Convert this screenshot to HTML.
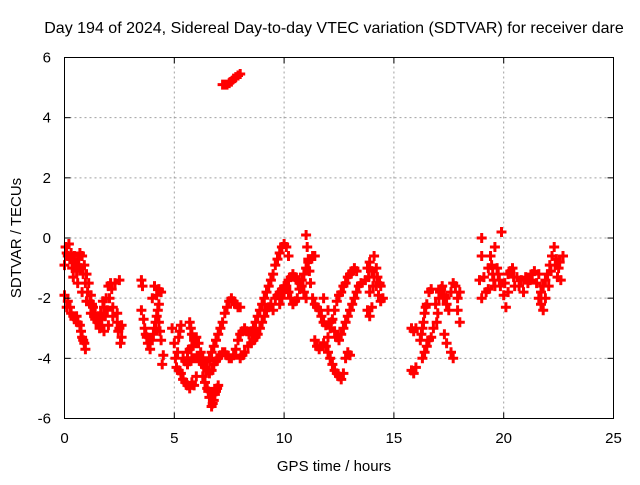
<!DOCTYPE html>
<html><head><meta charset="utf-8"><style>
body{margin:0;background:#fff}
svg text{font-family:"Liberation Sans",sans-serif;font-size:15px;fill:#000}
</style></head><body>
<svg id="chart" width="640" height="480" viewBox="0 0 640 480" xmlns="http://www.w3.org/2000/svg">
<rect width="640" height="480" fill="#fff"/>
<g id="grid"></g>
<g id="marks"></g>
<rect x="64.5" y="57.5" width="549" height="361" fill="none" stroke="#000" stroke-width="1"/>
<g id="ticks"></g>
<text x="334" y="33" text-anchor="middle" style="font-size:16px">Day 194 of 2024, Sidereal Day-to-day VTEC variation (SDTVAR) for receiver dare</text>
<text x="334" y="471" text-anchor="middle">GPS time / hours</text>
<text transform="translate(21,238) rotate(-90)" text-anchor="middle">SDTVAR / TECUs</text>
</svg>
<script>
const xTicks=[0,5,10,15,20,25];
const yTicks=[-6,-4,-2,0,2,4,6];
const pointsTime=[];const pointsValue=[];
const tracks=[
[[0,-0.9],[0.1,-0.5],[0.2,-0.2],[0.3,-0.5],[0.4,-0.8],[0.5,-0.9],[0.6,-0.7],[0.7,-0.5],[0.8,-0.6],[0.9,-0.9],[1.0,-1.2],[1.1,-1.5],[1.2,-1.9],[1.3,-2.3],[1.4,-2.5],[1.5,-2.8],[1.6,-3.0],[1.7,-2.7],[1.8,-2.3],[1.9,-2.0],[2.0,-1.6],[2.1,-1.5],[2.3,-1.5],[2.5,-1.4],[0.05,-0.3],[0.15,-0.6],[0.35,-1.0],[0.45,-0.6]],
[[0.25,-0.7],[0.55,-1.1],[0.65,-0.9],[0.75,-1.0],[0.85,-1.2],[0.95,-1.5],[1.05,-1.8],[1.15,-2.1],[1.25,-2.2],[1.35,-2.6],[1.45,-2.7],[1.55,-2.6],[1.65,-2.5],[1.75,-2.1],[1.85,-2.6],[1.95,-2.4],[2.05,-2.0],[2.15,-1.7],[2.2,-2.3]],
[[0.4,-1.3],[0.6,-1.5],[0.8,-1.8],[1.0,-2.1],[1.2,-2.5],[1.4,-2.7],[1.6,-2.9],[1.8,-3.1],[2.0,-2.9],[2.2,-2.6],[2.4,-2.5]],
[[0,-1.9],[0.15,-2.1],[0.3,-2.5],[0.45,-2.7],[0.6,-2.8],[0.75,-3.1],[0.85,-3.4],[0.95,-3.7],[0.1,-2.3],[0.25,-2.3],[0.4,-2.6],[0.55,-2.6],[0.7,-2.9],[0.8,-3.3],[0.9,-3.5]],
[[2.4,-2.8],[2.5,-3.0],[2.6,-3.3],[2.55,-3.5],[2.45,-3.1],[2.6,-2.9]],
[[3.5,-1.4],[3.55,-1.6],[3.5,-2.4],[3.6,-2.7],[3.7,-3.2],[3.8,-3.5],[3.9,-3.7],[4.0,-3.4],[4.1,-3.0],[4.2,-2.6],[4.3,-2.2],[4.4,-1.8],[4.0,-2.0],[4.1,-1.6],[4.3,-2.8],[4.4,-3.4],[4.5,-3.9],[4.45,-4.2],[3.65,-3.0],[3.75,-3.3],[4.05,-3.2],[4.15,-2.8],[4.25,-2.4],[4.35,-3.1],[4.2,-1.9],[4.3,-1.7]],
[[4.9,-3.0],[5.0,-3.5],[5.05,-4.0],[5.1,-4.3],[5.2,-3.3],[5.3,-2.9],[5.3,-4.5],[5.5,-4.8],[5.7,-5.0],[5.9,-4.9],[6.0,-4.6],[5.4,-4.7],[5.6,-4.9],[5.8,-4.8],[5.2,-4.4],[5.15,-3.8],[5.25,-3.1]],
[[5.6,-3.8],[5.8,-3.6],[6.0,-3.3],[6.2,-3.8],[6.4,-4.1],[6.6,-4.0],[6.8,-3.6],[7.0,-3.2],[7.2,-2.8],[7.4,-2.3],[7.6,-2.0],[7.8,-2.2],[8.0,-2.3],[5.7,-3.7],[5.9,-3.4],[6.1,-3.5],[6.3,-4.0],[6.5,-4.1],[6.7,-3.8],[6.9,-3.4],[7.1,-3.0],[7.3,-2.5],[7.5,-2.1],[7.7,-2.1],[7.9,-2.3]],
[[5.4,-4.0],[5.6,-4.2],[5.8,-4.0],[6.0,-4.0],[6.2,-4.1],[6.4,-4.3],[6.6,-4.5],[6.8,-4.2],[7.0,-4.0],[7.2,-3.8],[7.4,-3.9],[7.6,-4.0],[7.8,-3.7],[8.0,-3.2],[8.2,-3.0],[8.4,-3.2],[8.6,-3.0],[8.8,-2.6],[9.0,-2.2],[9.2,-1.8],[9.4,-1.4],[9.6,-0.9],[9.8,-0.5],[10.0,-0.2],[10.1,-0.3],[10.2,-0.6],[5.5,-4.1],[5.7,-4.1],[5.9,-4.0],[6.1,-4.0],[6.3,-4.2],[6.5,-4.4],[6.7,-4.4],[6.9,-4.1],[7.1,-3.9],[7.3,-3.8],[7.5,-4.0],[7.7,-3.9],[7.9,-3.4],[8.1,-3.1],[8.3,-3.1],[8.5,-3.1],[8.7,-2.8],[8.9,-2.4],[9.1,-2.0],[9.3,-1.6],[9.5,-1.2],[9.7,-0.7],[9.9,-0.3]],
[[6.3,-4.6],[6.5,-5.0],[6.6,-5.3],[6.7,-5.6],[6.8,-5.4],[6.9,-5.1],[7.0,-4.9],[6.4,-4.8],[6.55,-5.1],[6.75,-5.5],[6.85,-5.2],[6.95,-5.0]],
[[5.7,-2.8],[5.8,-3.2],[6.0,-3.5],[5.75,-3.0],[5.9,-3.3]],
[[8.0,-4.0],[8.2,-3.8],[8.5,-3.5],[8.7,-3.3],[8.9,-3.0],[9.0,-2.8],[9.2,-2.4],[9.4,-2.2],[9.5,-2.4],[9.6,-2.0],[9.8,-1.8],[10.0,-1.6],[10.2,-1.8],[10.4,-2.2],[10.6,-2.0],[10.8,-1.4],[11.0,-1.0],[11.2,-0.7],[11.4,-0.6],[8.1,-3.9],[8.35,-3.6],[8.6,-3.4],[8.8,-3.2],[9.1,-2.6],[9.3,-2.3],[9.7,-1.9],[9.9,-1.7],[10.1,-1.7],[10.3,-2.0],[10.5,-2.1],[10.7,-1.7],[10.9,-1.2],[11.1,-0.8],[11.3,-0.6]],
[[7.2,5.1],[7.4,5.1],[7.6,5.2],[7.8,5.35],[8.0,5.45],[7.3,5.1],[7.5,5.15],[7.7,5.3],[7.9,5.4]],
[[9.8,-2.2],[10.0,-1.8],[10.2,-1.4],[10.4,-1.2],[10.6,-1.4],[10.8,-1.6],[11.0,-2.0],[9.9,-2.0],[10.1,-1.6],[10.3,-1.3],[10.5,-1.3],[10.7,-1.5],[10.9,-1.8]],
[[11.0,0.1],[11.05,-0.3],[11.1,-0.7],[11.15,-1.1],[11.2,-1.5]],
[[11.3,-2.0],[11.5,-2.3],[11.7,-2.6],[11.9,-2.9],[12.0,-3.3],[12.1,-3.0],[12.2,-2.7],[12.3,-2.4],[12.4,-2.1],[12.6,-1.8],[12.8,-1.5],[13.0,-1.2],[13.2,-1.0],[13.3,-1.1],[11.4,-2.2],[11.6,-2.4],[11.8,-2.8],[12.5,-1.9],[12.7,-1.6],[12.9,-1.3],[13.1,-1.1]],
[[11.4,-3.4],[11.6,-3.7],[11.8,-3.5],[12.0,-3.8],[12.2,-4.2],[12.4,-4.5],[12.6,-4.7],[12.7,-4.5],[12.8,-4.0],[12.9,-3.8],[13.0,-3.9],[11.5,-3.6],[11.7,-3.6],[11.9,-3.6],[12.1,-4.0],[12.3,-4.4],[12.5,-4.6]],
[[11.8,-2.0],[12.0,-2.4],[12.3,-3.1],[12.5,-3.4],[12.7,-3.0],[12.9,-2.6],[13.1,-2.2],[13.3,-1.8],[13.5,-1.5],[12.15,-2.8],[12.4,-3.3],[12.6,-3.2],[12.8,-2.8],[13.0,-2.4],[13.2,-2.0],[13.4,-1.6]],
[[13.8,-1.0],[13.9,-0.8],[14.0,-1.1],[14.1,-1.3],[14.2,-1.6],[14.3,-1.9],[14.4,-2.1],[13.9,-1.8],[13.8,-2.4],[13.9,-2.6],[14.0,-2.3],[14.1,-0.6],[14.2,-1.0],[13.7,-1.4],[14.5,-2.0],[14.4,-1.6],[13.85,-1.3],[14.05,-1.6],[14.25,-1.3],[14.35,-1.5]],
[[15.8,-3.0],[15.9,-3.1],[16.0,-3.0],[15.8,-4.4],[15.9,-4.5],[16.0,-4.3],[16.2,-3.4],[16.3,-3.0],[16.4,-2.5],[16.5,-2.2],[16.6,-1.8],[16.7,-1.7],[16.3,-4.0],[16.5,-3.6],[16.7,-3.3],[16.8,-3.0],[16.9,-2.2],[17.0,-2.5],[17.1,-1.8],[17.2,-1.6],[17.3,-1.9],[17.4,-2.2],[17.5,-2.4],[17.6,-1.8],[17.7,-1.5],[17.8,-1.6],[17.9,-2.0],[18.0,-1.8],[17.3,-3.2],[17.4,-3.5],[17.6,-3.8],[17.7,-4.0],[17.9,-2.4],[18.0,-2.8],[16.25,-3.2],[16.35,-2.8],[16.45,-2.3],[16.4,-3.8],[16.6,-3.4],[16.95,-2.8],[17.05,-2.0],[17.15,-1.7],[17.25,-2.0],[17.35,-2.0]],
[[19.0,0.0],[19.0,-0.6],[19.1,-1.3],[19.2,-1.8],[19.3,-1.0],[19.4,-0.6],[19.5,-1.2],[19.6,-1.6],[19.7,-1.0],[19.8,-1.4],[19.9,0.2],[20.0,-1.9],[20.1,-2.3],[20.2,-1.2],[20.4,-1.0],[20.5,-1.6],[20.6,-1.3],[20.8,-1.4],[20.9,-1.8],[21.0,-1.3],[21.2,-1.4],[21.4,-1.1],[21.6,-2.0],[21.7,-2.2],[21.8,-1.6],[22.0,-1.2],[22.1,-0.9],[22.2,-0.6],[22.3,-0.3],[22.4,-0.7],[22.5,-1.0],[22.6,-1.4],[22.7,-0.6],[21.6,-1.2],[21.8,-2.4],[20.2,-1.8],[19.6,-0.3],[18.9,-1.4],[19.0,-2.0],[19.3,-1.7],[19.45,-0.9],[19.55,-1.4],[19.75,-1.2],[19.85,-1.6],[20.05,-1.5],[20.3,-1.1],[20.45,-1.3],[20.7,-1.6],[21.1,-1.5],[21.3,-1.2],[21.5,-1.5],[21.9,-1.4],[22.05,-1.6],[22.15,-1.1],[22.35,-0.9],[22.45,-1.3],[22.55,-0.8],[21.7,-1.8],[21.9,-2.0]]
];
tracks.forEach(t=>t.forEach(p=>{pointsTime.push(p[0]);pointsValue.push(p[1]);}));
const NS='http://www.w3.org/2000/svg';
const X0=64.5,X1=613.5,Y0=418.5,Y1=57.5;
function xs(v){return X0+(v-0)/(25-0)*(X1-X0);}
function ys(v){return Y0-(v+6)/12*(Y0-Y1);}
const grid=document.getElementById('grid'),ticks=document.getElementById('ticks'),marks=document.getElementById('marks');
function mk(tag,attrs,parent){const e=document.createElementNS(NS,tag);for(const k in attrs)e.setAttribute(k,attrs[k]);parent.appendChild(e);return e;}
xTicks.forEach(v=>{const x=xs(v);
 if(v>0&&v<25){const g=mk('line',{x1:x,x2:x,y1:Y0,y2:Y1,stroke:'#a0a0a0','stroke-dasharray':'2,3'},grid);
 
 }
 mk('line',{x1:x,x2:x,y1:Y0,y2:Y0-6,stroke:'#000'},ticks);
 mk('line',{x1:x,x2:x,y1:Y1,y2:Y1+6,stroke:'#000'},ticks);
 const t=mk('text',{x:x,y:443,'text-anchor':'middle'},ticks);t.textContent=v;
 
 });
yTicks.forEach(v=>{const y=ys(v);
 if(v>-6&&v<6){const g=mk('line',{x1:X0,x2:X1,y1:y,y2:y,stroke:'#a0a0a0','stroke-dasharray':'2,3'},grid);
 
 }
 mk('line',{x1:X0,x2:X0+6,y1:y,y2:y,stroke:'#000'},ticks);
 mk('line',{x1:X1,x2:X1-6,y1:y,y2:y,stroke:'#000'},ticks);
 const t=mk('text',{x:51,y:y+5,'text-anchor':'end'},ticks);t.textContent=v;
 
 });
let d='';
for(let i=0;i<pointsTime.length;i++){const x=xs(pointsTime[i]),y=ys(pointsValue[i]);
 d+=`M${(x-5).toFixed(1)} ${y.toFixed(1)}h10M${x.toFixed(1)} ${(y-5).toFixed(1)}v10`;}
const p=mk('path',{d:d,stroke:'#ff0000','stroke-width':3,fill:'none'},marks);


</script>
</body></html>
